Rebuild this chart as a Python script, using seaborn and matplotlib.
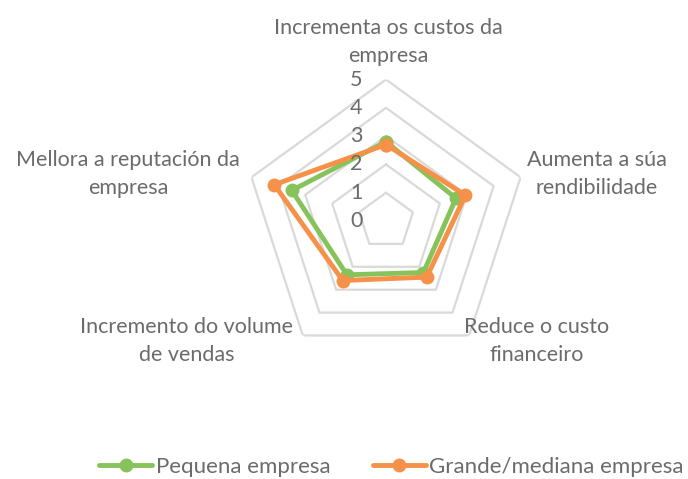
import numpy as np
import pandas as pd
import matplotlib
matplotlib.use('Agg')
import matplotlib.pyplot as plt
import seaborn as sb

categories = ['Incrementa os custos da\nempresa',
              'Aumenta a súa\nrendibilidade',
              'Reduce o custo\nfinanceiro',
              'Incremento do volume\nde vendas',
              'Mellora a reputación da\nempresa']
pequena = [2.8, 2.6, 2.25, 2.35, 3.5]
grande = [2.7, 2.95, 2.45, 2.6, 4.15]
series_names = ['Pequena empresa', 'Grande/mediana empresa']
ticks = [0, 1, 2, 3, 4, 5]

green = '#86C35A'
orange = '#F59149'
grey_txt = '#6B6B6B'
grid_col = '#D9D9D9'
fs = 15.5

sb.set_style('white')
plt.rcParams['font.family'] = ['Lato', 'DejaVu Sans']

n = len(categories)
theta = np.linspace(0, 2 * np.pi, n, endpoint=False)
theta_closed = np.append(theta, theta[0])

rows = []
for name, vals in zip(series_names, [pequena, grande]):
    for t, v in zip(theta_closed, vals + vals[:1]):
        rows.append({'theta': t, 'valor': v, 'serie': name})
df = pd.DataFrame(rows)

fig = plt.figure(figsize=(6.88, 4.79), dpi=100)
cx, cy, rad = 386 / 688, 1 - 221 / 479, 141.5
ax = fig.add_axes([cx - rad / 688, cy - rad / 479, 2 * rad / 688, 2 * rad / 479],
                  projection='polar')
ax.set_theta_offset(np.pi / 2)
ax.set_theta_direction(-1)
ax.set_ylim(0, 5)
ax.grid(False)
ax.spines['polar'].set_visible(False)
ax.set_xticks([])
ax.set_yticks([])

# pentagon gridlines
for r in ticks[1:]:
    ax.plot(theta_closed, [r] * (n + 1), color=grid_col, lw=1.6, zorder=1)

sb.lineplot(data=df, x='theta', y='valor', hue='serie', sort=False,
            estimator=None, palette=[green, orange], lw=3.5, marker='o',
            markersize=10, markeredgewidth=0, ax=ax, legend=False, zorder=3)

for r in ticks:
    ax.annotate(str(r), xy=(0, r), xytext=(-17, 0), textcoords='offset points',
                ha='right', va='center', fontsize=fs, color=grey_txt)

# category labels
label_pos = [(388, 42), (597, 174), (537, 341), (187, 341), (128, 174)]
for lab, (px, py) in zip(categories, label_pos):
    fig.text(px / 688, 1 - py / 479, lab, ha='center', va='center',
             fontsize=fs, color=grey_txt, linespacing=1.45)

handles = [plt.Line2D([], [], color=c, lw=3.5, marker='o', markersize=10,
                      markeredgewidth=0) for c in [green, orange]]
leg = fig.legend(handles, series_names, loc='center', ncol=2,
                 bbox_to_anchor=(0.569, 1 - 467 / 479), frameon=False,
                 fontsize=16, handlelength=2.4, handletextpad=0.15,
                 columnspacing=1.9)
for t in leg.get_texts():
    t.set_color(grey_txt)

fig.savefig('out.png', dpi=100)
